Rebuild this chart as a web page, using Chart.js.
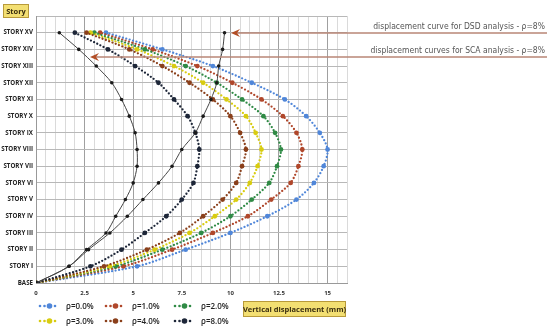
<!DOCTYPE html>
<html>
<head>
<meta charset="utf-8">
<script src="https://cdn.jsdelivr.net/npm/chart.js@4/dist/chart.umd.min.js"></script>
<style>
  html, body { margin: 0; padding: 0; background: #fff; }
  #wrap { position: relative; width: 550px; height: 330px; }
  canvas { display: block; }
</style>
</head>
<body>
<div id="wrap"><canvas id="chart" width="550" height="330"></canvas></div>
<script>
// ── Data ─────────────────────────────────────
const storyLabels = ['BASE','STORY I','STORY II','STORY III','STORY IV','STORY V','STORY VI','STORY VII',
    'STORY VIII','STORY IX','STORY X','STORY XI','STORY XII','STORY XIII','STORY XIV','STORY XV'];
const xTickLabels = [0, 2.5, 5, 7.5, 10, 12.5, 15];

const rho00 = [0, 5.2, 7.7, 10.0, 11.9, 13.4, 14.3, 14.8, 15.0, 14.6, 13.9, 12.8, 11.1, 9.1, 6.5, 3.6];
const rho10 = [0, 4.5, 7.0, 9.1, 10.9, 12.1, 13.1, 13.5, 13.7, 13.4, 12.7, 11.6, 10.1, 8.3, 6.0, 3.3];
const rho20 = [0, 4.1, 6.5, 8.5, 10.0, 11.1, 12.0, 12.4, 12.6, 12.3, 11.7, 10.6, 9.3, 7.7, 5.6, 3.0];
const rho30 = [0, 3.8, 6.1, 7.9, 9.2, 10.3, 11.0, 11.4, 11.6, 11.3, 10.8, 9.8, 8.6, 7.1, 5.2, 2.8];
const rho40 = [0, 3.5, 5.7, 7.4, 8.6, 9.6, 10.3, 10.6, 10.8, 10.5, 10.0, 9.1, 7.9, 6.5, 4.8, 2.6];
const rho80 = [0, 2.8, 4.4, 5.6, 6.7, 7.5, 8.1, 8.3, 8.4, 8.2, 7.8, 7.1, 6.3, 5.1, 3.7, 2.0];

// solid curves (arrows point at them)
const dsdCurve = [0, 1.7, 2.7, 3.8, 4.7, 5.5, 6.3, 7.0, 7.5, 8.2, 8.6, 9.0, 9.3, 9.4, 9.6, 9.7];
const scaCurve = [0, 1.7, 2.6, 3.6, 4.1, 4.6, 5.0, 5.2, 5.2, 5.1, 4.8, 4.4, 3.9, 3.1, 2.2, 1.2];

const legendNames  = ['ρ=0.0%','ρ=1.0%','ρ=2.0%','ρ=3.0%','ρ=4.0%','ρ=8.0%'];
const legendColors = ['#4f86d9','#b0472b','#2f8a45','#d8cc10','#8a3f1a','#1d2638'];

const toPoints = arr => arr.map((x, i) => ({ x, y: i }));

function dotted(label, values, color) {
    return {
        label, data: toPoints(values), showLine: true, tension: 0.3,
        borderColor: color, borderWidth: 2.3, borderDash: [0, 3.5], borderCapStyle: 'round',
        pointRadius: 2.4, pointBackgroundColor: color, pointBorderWidth: 0
    };
}
function solid(label, values) {
    return {
        label, data: toPoints(values), showLine: true, tension: 0.3,
        borderColor: '#444', borderWidth: 1,
        pointRadius: 1.8, pointBackgroundColor: '#1a1a1a', pointBorderWidth: 0
    };
}

// ── Overlay: boxes, annotations, legend ─────────
function yellowBox(ctx, x, y, w, h, text) {
    ctx.save();
    ctx.fillStyle = '#f3df72';
    ctx.strokeStyle = '#b89a3a';
    ctx.lineWidth = 1;
    ctx.fillRect(x, y, w, h);
    ctx.strokeRect(x + 0.5, y + 0.5, w - 1, h - 1);
    ctx.fillStyle = '#3a2e10';
    ctx.font = 'bold 7.5px "Open Sans", sans-serif';
    ctx.textAlign = 'center';
    ctx.textBaseline = 'middle';
    ctx.fillText(text, x + w / 2, y + h / 2 + 0.5);
    ctx.restore();
}

function arrowLine(ctx, x0, x1, y) {
    ctx.save();
    ctx.strokeStyle = '#b88676';
    ctx.lineWidth = 1.4;
    ctx.beginPath();
    ctx.moveTo(x0 + 4, y);
    ctx.lineTo(x1, y);
    ctx.stroke();
    ctx.fillStyle = '#b24e26';
    ctx.beginPath();
    ctx.moveTo(x0, y);
    ctx.lineTo(x0 + 9, y - 4);
    ctx.lineTo(x0 + 6, y);
    ctx.lineTo(x0 + 9, y + 4);
    ctx.closePath();
    ctx.fill();
    ctx.restore();
}

const overlay = {
    id: 'overlay',
    afterDraw(chart) {
        const ctx = chart.ctx;
        yellowBox(ctx, 3, 4, 26, 14, 'Story');
        yellowBox(ctx, 243, 301, 103, 16, 'Vertical displacement (mm)');

        arrowLine(ctx, 231, 547, 33);
        arrowLine(ctx, 90, 547, 57);
        ctx.save();
        ctx.fillStyle = '#555';
        ctx.font = '8.5px "DejaVu Sans Condensed", "Liberation Sans Narrow", sans-serif';
        ctx.textAlign = 'right';
        ctx.textBaseline = 'alphabetic';
        ctx.fillText('displacement curve for DSD analysis - ρ=8%', 545, 29);
        ctx.fillText('displacement curves for SCA analysis - ρ=8%', 545, 53);
        ctx.restore();

        // legend, 2 rows x 3 cols
        const colX = [40, 106, 175], rowY = [306, 321];
        legendNames.forEach((name, i) => {
            const x = colX[i % 3], y = rowY[Math.floor(i / 3)];
            const c = legendColors[i];
            ctx.save();
            ctx.fillStyle = c;
            [0, 4.5, 9.5, 15].forEach((dx, k) => {
                ctx.beginPath();
                ctx.arc(x + dx, y, k === 2 ? 2.8 : 1.3, 0, Math.PI * 2);
                ctx.fill();
            });
            ctx.fillStyle = '#222';
            ctx.font = '600 8px "Open Sans", sans-serif';
            ctx.textBaseline = 'middle';
            ctx.fillText(name, x + 26, y + 0.5);
            ctx.restore();
        });
    }
};

new Chart(document.getElementById('chart'), {
    type: 'scatter',
    data: {
        datasets: [
            solid('DSD', dsdCurve),
            solid('SCA', scaCurve),
            dotted(legendNames[5], rho80, legendColors[5]),
            dotted(legendNames[4], rho40, legendColors[4]),
            dotted(legendNames[3], rho30, legendColors[3]),
            dotted(legendNames[2], rho20, legendColors[2]),
            dotted(legendNames[1], rho10, legendColors[1]),
            dotted(legendNames[0], rho00, legendColors[0])
        ]
    },
    options: {
        responsive: false, animation: false,
        layout: { padding: { top: 16, right: 203, left: 0, bottom: 0 } },
        plugins: { legend: { display: false }, tooltip: { enabled: false } },
        scales: {
            x: {
                type: 'linear', min: 0, max: 16,
                afterFit: s => { s.height = 47; },
                border: { color: '#999' },
                grid: { drawTicks: false, color: c => (c.tick && c.tick.value % 2.5 === 0) ? '#a0a0a0' : '#dadada', lineWidth: 1 },
                ticks: {
                    stepSize: 0.5, autoSkip: false, maxRotation: 0, padding: 7,
                    color: '#333', font: { size: 6, weight: 'bold', family: '"Open Sans", sans-serif' },
                    callback: v => xTickLabels.includes(v) ? String(v) : ''
                }
            },
            y: {
                type: 'linear', min: 0, max: 16,
                afterFit: s => { s.width = 36; },
                border: { color: '#999' },
                grid: { drawTicks: false, color: '#b8b8b8', lineWidth: 1 },
                ticks: {
                    stepSize: 1, autoSkip: false, padding: 3,
                    color: '#222', font: { size: 6.2, weight: 'bold', family: '"Open Sans", sans-serif' },
                    callback: v => storyLabels[v] ?? ''
                }
            }
        }
    },
    plugins: [overlay]
});
</script>
</body>
</html>
